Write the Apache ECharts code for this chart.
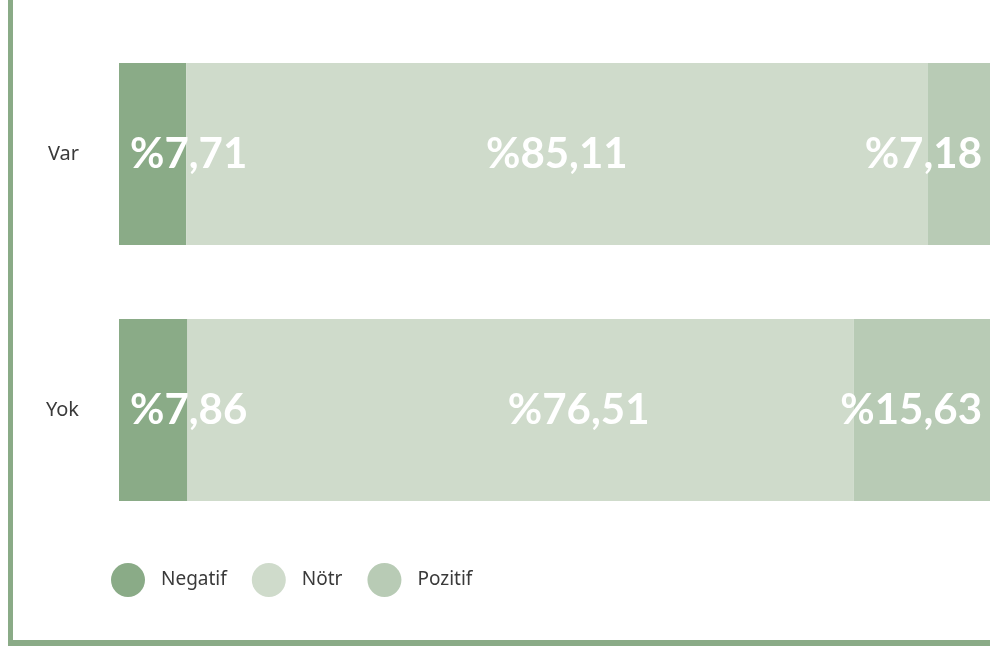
<!DOCTYPE html>
<html><head><meta charset="utf-8">
<script src="https://cdn.jsdelivr.net/npm/echarts@6/dist/echarts.min.js"></script>
<style>
html,body{margin:0;padding:0;background:#fff;overflow:hidden;}
#frame{position:absolute;left:8px;top:-10px;width:1100px;height:656px;border-left:5px solid #8aab87;border-bottom:6px solid #8aab87;box-sizing:border-box;}
#chart{position:absolute;left:0;top:0;width:990px;height:646px;}
</style></head>
<body>
<div id="frame"></div>
<div id="chart"></div>
<script>
var categories = ['Var', 'Yok'];
var negatif = [7.71, 7.86];
var notr = [85.11, 76.51];
var pozitif = [7.18, 15.63];
var seriesNames = ['Negatif', 'Nötr', 'Pozitif'];
var colors = ['#8aab87', '#cfdbcb', '#b8cbb5'];

function fmt(v){ return '%' + v.toFixed(2).replace('.', ','); }
var labelStyle = {show:true, color:'#ffffff', fontFamily:'Lato', fontWeight:'bold', fontSize:42,
  formatter:function(p){return fmt(p.value);}};

var chart = echarts.init(document.getElementById('chart'), null, {renderer:'canvas'});
chart.setOption({
  animation:false,
  color: colors,
  legend:{left:106, top:558, itemWidth:34, itemHeight:34, icon:'circle', itemGap:25,
    textStyle:{fontFamily:'Noto Sans', fontSize:19, color:'#3a3a3a', padding:[0,0,0,11]},
    data: seriesNames},
  grid:{left:119, right:0, top:26, bottom:108},
  xAxis:{type:'value', min:0, max:100, show:false},
  yAxis:{type:'category', data:categories, inverse:true,
    axisLine:{show:false}, axisTick:{show:false}, splitLine:{show:false},
    axisLabel:{margin:40, fontFamily:'Noto Sans', fontSize:20, color:'#3a3a3a'}},
  series:[
    {name:seriesNames[0], type:'bar', stack:'s', barWidth:182, data:negatif,
      label:Object.assign({}, labelStyle, {position:'insideLeft', distance:11})},
    {name:seriesNames[1], type:'bar', stack:'s', data:notr.map(function(v,i){
        return i===1 ? {value:v, label:{offset:[58,0]}} : v;}),
      label:Object.assign({}, labelStyle, {position:'inside'})},
    {name:seriesNames[2], type:'bar', stack:'s', data:pozitif,
      label:Object.assign({}, labelStyle, {position:'insideRight', distance:8})}
  ]
});
</script>
</body></html>
